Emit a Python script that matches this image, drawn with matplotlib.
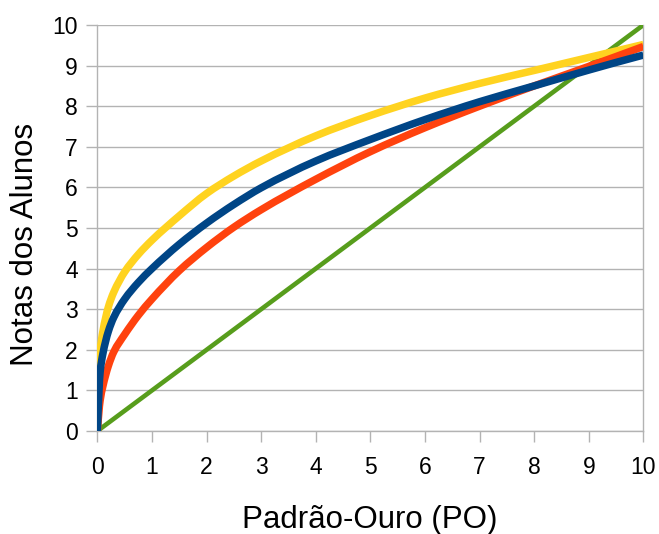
import matplotlib
matplotlib.use("Agg")
import matplotlib.pyplot as plt
import numpy as np
from matplotlib.path import Path
from matplotlib.patches import PathPatch

plt.rcParams['font.family'] = ['Liberation Sans', 'DejaVu Sans']

# Gold-standard scores (x) and the student score curves
po = [0, 0.05, 0.1, 0.2, 0.3, 0.5, 0.75, 1, 1.5, 2, 2.5, 3, 4, 5, 6, 7, 8, 9, 10]
serie_azul = [0, 1.45, 1.9, 2.45, 2.8, 3.25, 3.66, 4.0, 4.6, 5.12, 5.58, 5.99,
              6.65, 7.18, 7.67, 8.11, 8.5, 8.89, 9.26]
serie_vermelha = [0, 0.75, 1.1, 1.6, 1.95, 2.38, 2.85, 3.25, 3.95, 4.52, 5.02, 5.45,
                  6.2, 6.88, 7.47, 8.0, 8.5, 8.98, 9.47]
serie_amarela = [0, 1.95, 2.45, 3.05, 3.42, 3.92, 4.35, 4.7, 5.3, 5.85, 6.28, 6.65,
                 7.27, 7.77, 8.2, 8.56, 8.88, 9.2, 9.52]
diagonal_x = [0, 10]
diagonal_y = [0, 10]

ticks = list(range(0, 11))


def _pchip_slopes(x, y):
    h = np.diff(x)
    d = np.diff(y) / h
    n = len(x)
    m = np.zeros(n)
    for k in range(1, n - 1):
        if d[k - 1] * d[k] <= 0:
            m[k] = 0.0
        else:
            w1 = 2 * h[k] + h[k - 1]
            w2 = h[k] + 2 * h[k - 1]
            m[k] = (w1 + w2) / (w1 / d[k - 1] + w2 / d[k])

    def end(h0, h1, d0, d1):
        s = ((2 * h0 + h1) * d0 - h0 * d1) / (h0 + h1)
        if np.sign(s) != np.sign(d0):
            s = 0.0
        elif np.sign(d0) != np.sign(d1) and abs(s) > abs(3 * d0):
            s = 3 * d0
        return s

    m[0] = end(h[0], h[1], d[0], d[1])
    m[-1] = end(h[-1], h[-2], d[-1], d[-2])
    return m


def smooth_line(ax, x, y, **kw):
    """Draw a smoothed (monotone cubic) line through the data points."""
    x = np.asarray(x, float)
    y = np.asarray(y, float)
    m = _pchip_slopes(x, y)
    verts = [(x[0], y[0])]
    codes = [Path.MOVETO]
    for i in range(len(x) - 1):
        h = x[i + 1] - x[i]
        verts += [(x[i] + h / 3, y[i] + m[i] * h / 3),
                  (x[i + 1] - h / 3, y[i + 1] - m[i + 1] * h / 3),
                  (x[i + 1], y[i + 1])]
        codes += [Path.CURVE4] * 3
    patch = PathPatch(Path(verts, codes), fill=False, capstyle='butt',
                      joinstyle='round', **kw)
    ax.add_patch(patch)
    return patch


fig = plt.figure(figsize=(6.59, 5.34), dpi=100)
ax = fig.add_axes([0.1478, 0.1929, 0.8285, 0.7603])

grid_col = '#b3b3b3'
ax.plot(diagonal_x, diagonal_y, color='#579d1c', lw=3.3, solid_capstyle='butt', zorder=3)
smooth_line(ax, po, serie_amarela, edgecolor='#ffd320', lw=5.4, zorder=4)
smooth_line(ax, po, serie_vermelha, edgecolor='#ff420e', lw=5.4, zorder=5)
smooth_line(ax, po, serie_azul, edgecolor='#004586', lw=5.4, zorder=6)

ax.set_xlim(0, 10)
ax.set_ylim(0, 10)
ax.set_xticks(ticks)
ax.set_yticks(ticks)
ax.set_xticklabels([str(t) for t in ticks])
ax.set_yticklabels([str(t) for t in ticks])

ax.yaxis.grid(True, color=grid_col, lw=1.0)
ax.set_axisbelow(True)
for side in ['left', 'bottom', 'right']:
    ax.spines[side].set_color(grid_col)
    ax.spines[side].set_linewidth(1.0)
ax.spines['top'].set_visible(False)

ax.tick_params(axis='both', colors=grid_col, labelcolor='black', labelsize=16.5,
               length=8, width=1.0)
ax.tick_params(axis='x', pad=10)
ax.tick_params(axis='y', pad=6)

W, H = 659, 534
fig.text(370 / W, 1 - 520 / H, 'Padrão-Ouro (PO)', fontsize=22.5,
         ha='center', va='center')
fig.text(25 / W, 1 - 244 / H, 'Notas dos Alunos', fontsize=22.5,
         rotation=90, ha='center', va='center')

fig.savefig('out.png', dpi=100)
